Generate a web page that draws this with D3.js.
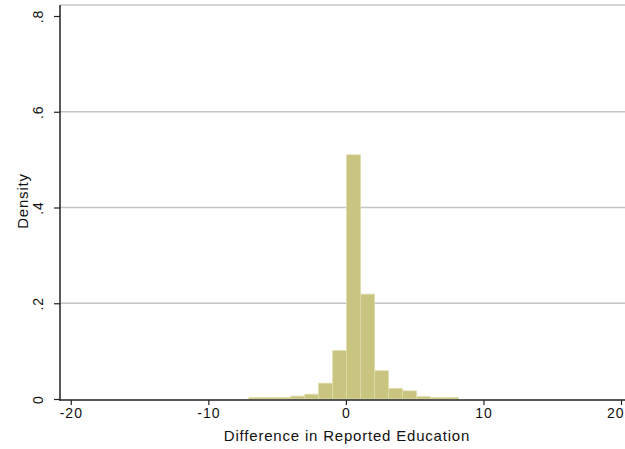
<!DOCTYPE html>
<html>
<head>
<meta charset="utf-8">
<script src="https://cdn.jsdelivr.net/npm/d3@7"></script>
<style>
  html, body { margin: 0; padding: 0; background: #fff; }
  svg { display: block; }
  text { font-family: "Liberation Sans", Arial, Helvetica, sans-serif; fill: #111; }
</style>
</head>
<body>
<svg id="chart" width="625" height="449"></svg>
<script>
// Histogram of differences in reported education (density scale)
const binLower = [-7.05, -6.04, -5.02, -4.01, -2.99, -1.98, -0.96, 0.05, 1.07, 2.08, 3.10, 4.11, 5.13, 6.14, 7.16];
const binWidth = 1.015;
const density = [0.003, 0.003, 0.003, 0.006, 0.010, 0.033, 0.101, 0.510, 0.219, 0.059, 0.022, 0.017, 0.005, 0.003, 0.003];

const xTicks = [-20, -10, 0, 10, 20];
const xTickLabels = ["-20", "-10", "0", "10", "20"];
const yTicks = [0, 0.2, 0.4, 0.6, 0.8];
const yTickLabels = ["0", ".2", ".4", ".6", ".8"];
const gridValues = [0.2, 0.4, 0.6];

const xTitle = "Difference in Reported Education";
const yTitle = "Density";

const svg = d3.select("#chart");
const plot = { left: 60, right: 625, top: 5, bottom: 400 };

const x = d3.scaleLinear().domain([-20, 20]).range([70.8, 621]);
const y = d3.scaleLinear().domain([0, 0.8]).range([399, 16]);

// frame top line and horizontal grid lines
svg.append("line")
  .attr("x1", plot.left).attr("x2", plot.right)
  .attr("y1", plot.top).attr("y2", plot.top)
  .attr("stroke", "#c8c8c8").attr("stroke-width", 1.5);

svg.append("g").selectAll("line").data(gridValues).join("line")
  .attr("x1", plot.left).attr("x2", plot.right)
  .attr("y1", d => y(d)).attr("y2", d => y(d))
  .attr("stroke", "#c4c4c4").attr("stroke-width", 1.6);

// bars
const bins = binLower.map((lo, i) => ({ lo, hi: lo + binWidth, d: density[i] }));
svg.append("g").selectAll("rect").data(bins).join("rect")
  .attr("x", b => x(b.lo))
  .attr("width", b => x(b.hi) - x(b.lo))
  .attr("y", b => y(b.d))
  .attr("height", b => y(0) - y(b.d))
  .attr("fill", "#c9c480")
  .attr("stroke", "#dfdbaa")
  .attr("stroke-width", 0.8);

// x axis
const xAxis = svg.append("g")
  .attr("transform", `translate(0,${plot.bottom})`)
  .call(d3.axisBottom(x).tickValues(xTicks).tickSize(5).tickPadding(3)
    .tickFormat((d, i) => xTickLabels[i]));
xAxis.select(".domain").attr("d", `M${plot.left},0H${plot.right}`).attr("stroke", "#222").attr("stroke-width", 1.5);
xAxis.selectAll(".tick line").attr("stroke", "#222").attr("stroke-width", 1.2);
xAxis.selectAll(".tick text")
  .style("font-family", "'Liberation Sans', Arial, sans-serif")
  .style("font-size", "14px").style("letter-spacing", "1px").attr("fill", "#111");
// last label sits against the right edge
xAxis.selectAll(".tick text").filter((d, i) => i === xTicks.length - 1)
  .attr("text-anchor", "end").attr("x", 625 - x(20) - 1);

// y axis
const yAxis = svg.append("g")
  .attr("transform", `translate(${plot.left},0)`)
  .call(d3.axisLeft(y).tickValues(yTicks).tickSize(6).tickFormat((d, i) => yTickLabels[i]));
yAxis.select(".domain").attr("d", `M0,${plot.top}V${plot.bottom + 1}`).attr("stroke", "#222").attr("stroke-width", 1.5);
yAxis.selectAll(".tick line").attr("stroke", "#222").attr("stroke-width", 1.2);
yAxis.selectAll(".tick text")
  .attr("x", null).attr("dy", null)
  .attr("text-anchor", "middle")
  .attr("transform", "translate(-17,0) rotate(-90)")
  .style("font-family", "'Liberation Sans', Arial, sans-serif")
  .style("font-size", "14px").style("letter-spacing", "1px").attr("fill", "#111");

// axis titles
svg.append("text")
  .attr("x", 347).attr("y", 441)
  .attr("text-anchor", "middle")
  .style("font-size", "15px")
  .style("letter-spacing", "0.8px")
  .text(xTitle);

svg.append("text")
  .attr("transform", `translate(28,201) rotate(-90)`)
  .attr("text-anchor", "middle")
  .style("font-size", "15px")
  .style("letter-spacing", "0.8px")
  .text(yTitle);
</script>
</body>
</html>
